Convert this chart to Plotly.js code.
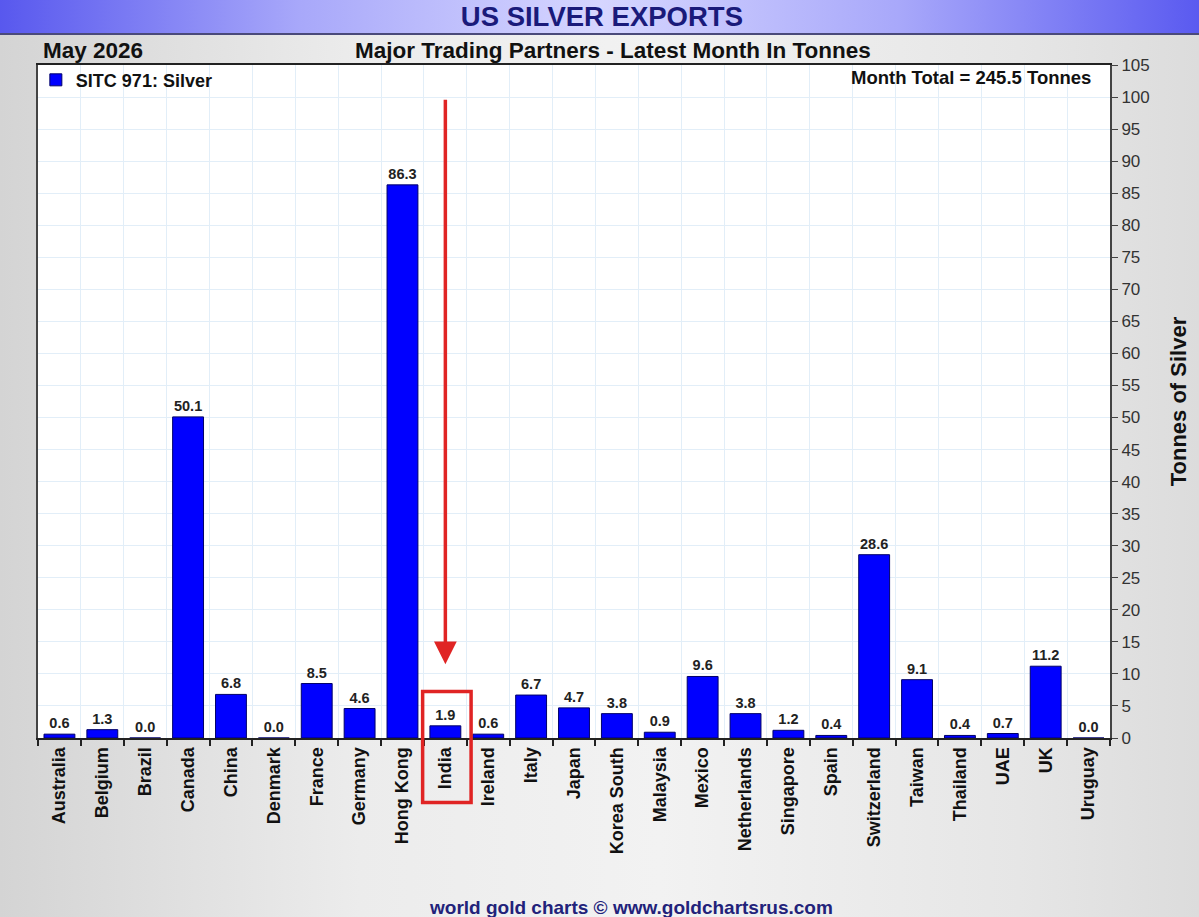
<!DOCTYPE html>
<html>
<head>
<meta charset="utf-8">
<script src="https://cdn.plot.ly/plotly-3.0.1.min.js"></script>
<style>
  html, body { margin: 0; padding: 0; }
  #chart {
    width: 1199px; height: 917px;
    background:
      linear-gradient(to right, #5858ee 0%, #a8a8fa 25%, #d6d6ff 50%, #a8a8fa 75%, #5a5af0 100%) top left / 100% 33px no-repeat,
      linear-gradient(#4a4a7a, #4a4a7a) 0 33px / 100% 2px no-repeat,
      linear-gradient(to right, #d4d4d4 0%, #ececec 30%, #f2f2f2 55%, #e6e6e6 85%, #dcdcdc 100%);
  }
</style>
</head>
<body>
<div id="chart"></div>
<script>
const countries = ["Australia","Belgium","Brazil","Canada","China","Denmark","France","Germany","Hong Kong","India","Ireland","Italy","Japan","Korea South","Malaysia","Mexico","Netherlands","Singapore","Spain","Switzerland","Taiwan","Thailand","UAE","UK","Uruguay"];
const tonnes = [0.6,1.3,0.0,50.1,6.8,0.0,8.5,4.6,86.3,1.9,0.6,6.7,4.7,3.8,0.9,9.6,3.8,1.2,0.4,28.6,9.1,0.4,0.7,11.2,0.0];
const seriesName = "SITC 971: Silver";
const monthLabel = "May 2026";
const monthTotalText = "Month Total = 245.5 Tonnes";
const highlighted = "India";
const yTicks = [0,5,10,15,20,25,30,35,40,45,50,55,60,65,70,75,80,85,90,95,100,105];

const hiIdx = countries.indexOf(highlighted);
// plot area spans 65..738 px vertically
const py = p => (738 - p) / 673;

const trace = {
  type: "bar",
  x: countries,
  y: tonnes,
  name: seriesName,
  marker: { color: "#0000ff", line: { color: "#00006a", width: 1 } },
  text: tonnes.map(v => v.toFixed(1)),
  textposition: "outside",
  cliponaxis: false,
  textfont: { family: "Liberation Sans, Arial, sans-serif", size: 14.5, color: "#222", weight: "bold" },
  showlegend: true
};

const layout = {
  width: 1199, height: 917,
  paper_bgcolor: "rgba(0,0,0,0)",
  plot_bgcolor: "#ffffff",
  margin: { l: 38, r: 89, t: 65, b: 179 },
  bargap: 0.28,
  title: {
    text: "<b>US SILVER EXPORTS</b>",
    x: 0.502, xanchor: "center", xref: "container",
    y: 1 - 16/917, yanchor: "middle", yref: "container",
    font: { family: "Liberation Sans, Arial, sans-serif", size: 27.5, color: "#1a1a7a" }
  },
  font: { family: "Liberation Sans, Arial, sans-serif", color: "#222" },
  xaxis: {
    type: "category",
    tickson: "boundaries",
    ticks: "outside", ticklen: 6, tickcolor: "#222", tickwidth: 2,
    tickangle: -90,
    tickfont: { size: 18, color: "#111", weight: "bold" },
    showgrid: true, gridcolor: "#e2eef8", gridwidth: 1,
    showline: true, linecolor: "#222", linewidth: 2, mirror: true,
    range: [-0.5, countries.length - 0.5],
    fixedrange: true
  },
  yaxis: {
    side: "right",
    range: [0, 105],
    tickvals: yTicks,
    ticks: "outside", ticklen: 6, tickcolor: "#444", tickwidth: 1,
    tickfont: { size: 17, color: "#333" },
    showgrid: true, gridcolor: "#e2eef8", gridwidth: 1,
    zeroline: false,
    showline: true, linecolor: "#444", linewidth: 2, mirror: true,
    title: { text: "<b>Tonnes of Silver</b>", font: { size: 22, color: "#111" }, standoff: 22 }
  },
  legend: {
    x: -0.002, y: 1.005, xanchor: "left", yanchor: "top",
    bgcolor: "rgba(0,0,0,0)",
    font: { size: 18, color: "#111", weight: "bold" },
    itemwidth: 30
  },
  annotations: [
    { text: "<b>" + monthLabel + "</b>", xref: "paper", yref: "paper",
      x: 0.003, y: py(50), xanchor: "left", yanchor: "middle", showarrow: false,
      font: { size: 22.5, color: "#111" } },
    { text: "<b>Major Trading Partners - Latest Month In Tonnes</b>", xref: "paper", yref: "paper",
      x: 0.536, y: py(50), xanchor: "center", yanchor: "middle", showarrow: false,
      font: { size: 22.5, color: "#111" } },
    { text: "<b>" + monthTotalText + "</b>", xref: "paper", yref: "paper",
      x: 0.984, y: py(77), xanchor: "right", yanchor: "middle", showarrow: false,
      font: { size: 18.5, color: "#111" } },
    { text: "<b>world gold charts © www.goldchartsrus.com</b>", xref: "paper", yref: "paper",
      x: 0.553, y: py(907), xanchor: "center", yanchor: "middle", showarrow: false,
      font: { size: 19, color: "#22227a" } },
    { text: "", x: highlighted, y: 11.5, xref: "x", yref: "y",
      showarrow: true, arrowhead: 2, arrowsize: 1.3, arrowwidth: 3.5, arrowcolor: "#e02424",
      axref: "pixel", ayref: "pixel", ax: 0, ay: -566, standoff: 0 }
  ],
  shapes: [
    { type: "rect", xref: "x", yref: "paper",
      x0: hiIdx - 0.53, x1: hiIdx + 0.6, y0: -0.096, y1: 0.069,
      line: { color: "#e02424", width: 3.5 }, fillcolor: "rgba(0,0,0,0)" }
  ]
};

Plotly.newPlot("chart", [trace], layout, { displayModeBar: false, staticPlot: true });
</script>
</body>
</html>
